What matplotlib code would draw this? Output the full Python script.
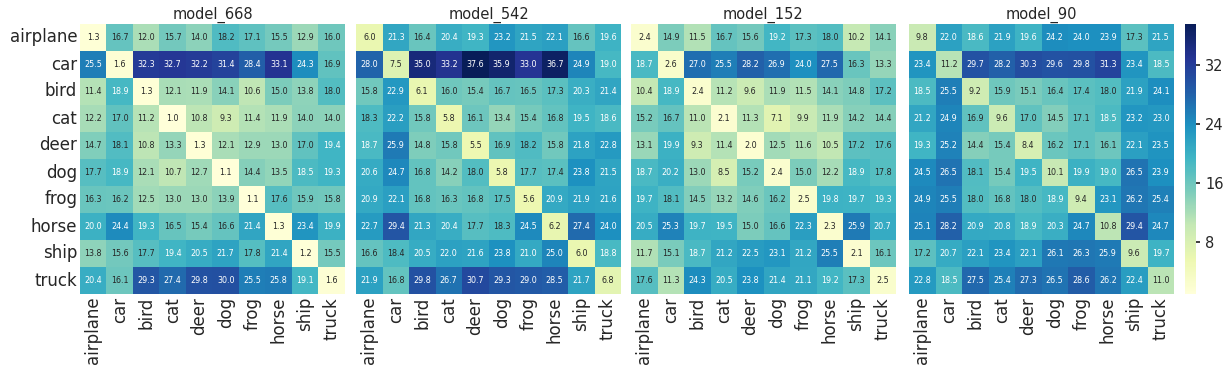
import matplotlib
matplotlib.use('Agg')
import matplotlib.pyplot as plt
import numpy as np
import seaborn as sns

classes = ['airplane', 'car', 'bird', 'cat', 'deer', 'dog', 'frog', 'horse', 'ship', 'truck']
model_names = ['model_668', 'model_542', 'model_152', 'model_90']

model_668 = [
    [1.3, 16.7, 12.0, 15.7, 14.0, 18.2, 17.1, 15.5, 12.9, 16.0],
    [25.5, 1.6, 32.3, 32.7, 32.2, 31.4, 28.4, 33.1, 24.3, 16.9],
    [11.4, 18.9, 1.3, 12.1, 11.9, 14.1, 10.6, 15.0, 13.8, 18.0],
    [12.2, 17.0, 11.2, 1.0, 10.8, 9.3, 11.4, 11.9, 14.0, 14.0],
    [14.7, 18.1, 10.8, 13.3, 1.3, 12.1, 12.9, 13.0, 17.0, 19.4],
    [17.7, 18.9, 12.1, 10.7, 12.7, 1.1, 14.4, 13.5, 18.5, 19.3],
    [16.3, 16.2, 12.5, 13.0, 13.0, 13.9, 1.1, 17.6, 15.9, 15.8],
    [20.0, 24.4, 19.3, 16.5, 15.4, 16.6, 21.4, 1.3, 23.4, 19.9],
    [13.8, 15.6, 17.7, 19.4, 20.5, 21.7, 17.8, 21.4, 1.2, 15.5],
    [20.4, 16.1, 29.3, 27.4, 29.8, 30.0, 25.5, 25.8, 19.1, 1.6],
]

model_542 = [
    [6.0, 21.3, 16.4, 20.4, 19.3, 23.2, 21.5, 22.1, 16.6, 19.6],
    [28.0, 7.5, 35.0, 33.2, 37.6, 35.9, 33.0, 36.7, 24.9, 19.0],
    [15.8, 22.9, 6.1, 16.0, 15.4, 16.7, 16.5, 17.3, 20.3, 21.4],
    [18.3, 22.2, 15.8, 5.8, 16.1, 13.4, 15.4, 16.8, 19.5, 18.6],
    [18.7, 25.9, 14.8, 15.8, 5.5, 16.9, 18.2, 15.8, 21.8, 22.8],
    [20.6, 24.7, 16.8, 14.2, 18.0, 5.8, 17.7, 17.4, 23.8, 21.5],
    [20.9, 22.1, 16.8, 16.3, 16.8, 17.5, 5.6, 20.9, 21.9, 21.6],
    [22.7, 29.4, 21.3, 20.4, 17.7, 18.3, 24.5, 6.2, 27.4, 24.0],
    [16.6, 18.4, 20.5, 22.0, 21.6, 23.8, 21.0, 25.0, 6.0, 18.8],
    [21.9, 16.8, 29.8, 26.7, 30.7, 29.3, 29.0, 28.5, 21.7, 6.8],
]

model_152 = [
    [2.4, 14.9, 11.5, 16.7, 15.6, 19.2, 17.3, 18.0, 10.2, 14.1],
    [18.7, 2.6, 27.0, 25.5, 28.2, 26.9, 24.0, 27.5, 16.3, 13.3],
    [10.4, 18.9, 2.4, 11.2, 9.6, 11.9, 11.5, 14.1, 14.8, 17.2],
    [15.2, 16.7, 11.0, 2.1, 11.3, 7.1, 9.9, 11.9, 14.2, 14.4],
    [13.1, 19.9, 9.3, 11.4, 2.0, 12.5, 11.6, 10.5, 17.2, 17.6],
    [18.7, 20.2, 13.0, 8.5, 15.2, 2.4, 15.0, 12.2, 18.9, 17.8],
    [19.7, 18.1, 14.5, 13.2, 14.6, 16.2, 2.5, 19.8, 19.7, 19.3],
    [20.5, 25.3, 19.7, 19.5, 15.0, 16.6, 22.3, 2.3, 25.9, 20.7],
    [11.7, 15.1, 18.7, 21.2, 22.5, 23.1, 21.2, 25.5, 2.1, 16.1],
    [17.6, 11.3, 24.3, 20.5, 23.8, 21.4, 21.1, 19.2, 17.3, 2.5],
]

model_90 = [
    [9.8, 22.0, 18.6, 21.9, 19.6, 24.2, 24.0, 23.9, 17.3, 21.5],
    [23.4, 11.2, 29.7, 28.2, 30.3, 29.6, 29.8, 31.3, 23.4, 18.5],
    [18.5, 25.5, 9.2, 15.9, 15.1, 16.4, 17.4, 18.0, 21.9, 24.1],
    [21.2, 24.9, 16.9, 9.6, 17.0, 14.5, 17.1, 18.5, 23.2, 23.0],
    [19.3, 25.2, 14.4, 15.4, 8.4, 16.2, 17.1, 16.1, 22.1, 23.5],
    [24.5, 26.5, 18.1, 15.4, 19.5, 10.1, 19.9, 19.0, 26.5, 23.9],
    [24.9, 25.5, 18.0, 16.8, 18.0, 18.9, 9.4, 23.1, 26.2, 25.4],
    [25.1, 28.2, 20.9, 20.8, 18.9, 20.3, 24.7, 10.8, 29.4, 24.7],
    [17.2, 20.7, 22.1, 23.4, 22.1, 26.1, 26.3, 25.9, 9.6, 19.7],
    [22.8, 18.5, 27.5, 25.4, 27.3, 26.5, 28.6, 26.2, 22.4, 11.0],
]

matrices = [model_668, model_542, model_152, model_90]

sns.set_theme(style='white')
plt.rcParams['font.family'] = ['DejaVu Sans']

W, H = 1231, 375
fig = plt.figure(figsize=(W / 100, H / 100), dpi=100)

vmin = min(np.min(m) for m in matrices)
vmax = max(np.max(m) for m in matrices)

# pixel boxes of each heatmap, top/bottom shared
lefts = [80, 356, 631, 909]
width = 265
top, bottom = 24, 294

cax = fig.add_axes([1185 / W, 1 - bottom / H, 11 / W, (bottom - top) / H])

for i, (name, mat) in enumerate(zip(model_names, matrices)):
    ax = fig.add_axes([lefts[i] / W, 1 - bottom / H, width / W, (bottom - top) / H])
    last = i == len(matrices) - 1
    sns.heatmap(np.array(mat), ax=ax, cmap='YlGnBu', vmin=vmin, vmax=vmax,
                annot=True, fmt='.1f', annot_kws={'fontsize': 5.8},
                xticklabels=classes, yticklabels=classes if i == 0 else False,
                cbar=last, cbar_ax=cax if last else None)
    ax.set_title(name, fontsize=10.5, pad=4)
    ax.tick_params(axis='x', labelsize=12, rotation=90, length=0, pad=2)
    ax.tick_params(axis='y', labelsize=12, rotation=0, length=0, pad=2)

cax.tick_params(labelsize=10.5, length=3)
cax.set_yticks([8, 16, 24, 32])

fig.savefig('out.png', dpi=100)
